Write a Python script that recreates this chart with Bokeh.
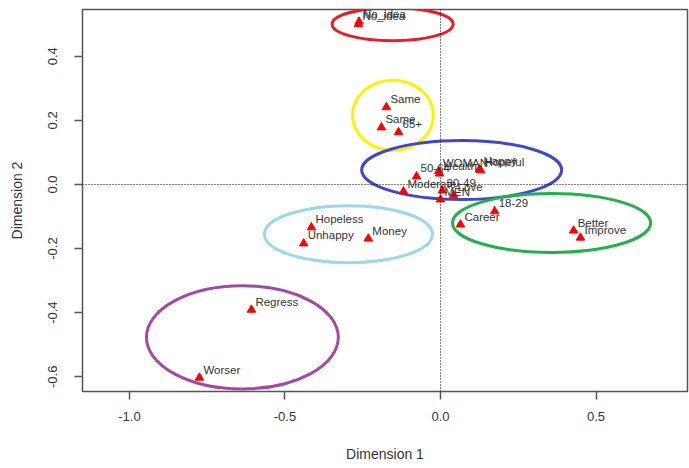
from bokeh.plotting import figure
from bokeh.models import ColumnDataSource, Span, FixedTicker, Range1d
from bokeh.core.properties import value
from bokeh.embed import file_html
from bokeh.resources import INLINE

# Correspondence analysis coordinates of each category
labels = ["No_idea", "No_idea", "Same", "Same", "65+", "50-64", "WOMAN", "Health",
          "Happy", "Hopeful", "Moderate", "30-49", "MEN", "Love", "18-29", "Career",
          "Better", "Improve", "Hopeless", "Unhappy", "Money", "Regress", "Worser"]
dim1 = [-0.264, -0.262, -0.174, -0.190, -0.135, -0.077, -0.006, -0.003,
        0.125, 0.129, -0.119, 0.006, 0.000, 0.042, 0.174, 0.064,
        0.428, 0.450, -0.415, -0.440, -0.232, -0.608, -0.775]
dim2 = [0.500, 0.508, 0.241, 0.178, 0.163, 0.025, 0.041, 0.034,
        0.047, 0.044, -0.022, -0.019, -0.047, -0.034, -0.084, -0.125,
        -0.144, -0.166, -0.134, -0.184, -0.169, -0.391, -0.603]

# Cluster outlines
cluster_x = [-0.154, -0.153, 0.068, 0.357, -0.296, -0.637]
cluster_y = [0.500, 0.216, 0.045, -0.120, -0.155, -0.477]
cluster_w = [0.389, 0.260, 0.643, 0.637, 0.540, 0.617]
cluster_h = [0.103, 0.219, 0.184, 0.184, 0.178, 0.322]
cluster_color = ["#ED1C24", "#FFF200", "#3F48CC", "#22B14C", "#99D9EA", "#A349A4"]

x_ticks = [-1.0, -0.5, 0.0, 0.5]
x_tick_labels = ["-1.0", "-0.5", "0.0", "0.5"]
y_ticks = [-0.6, -0.4, -0.2, 0.0, 0.2, 0.4]
y_tick_labels = ["-0.6", "-0.4", "-0.2", "0.0", "0.2", "0.4"]

FONT = "Liberation Sans"

p = figure(width=689, height=468, output_backend="svg", toolbar_location=None,
           x_range=Range1d(-1.151, 0.794), y_range=Range1d(-0.646, 0.546),
           min_border_left=82, min_border_right=2, min_border_top=9, min_border_bottom=77)

p.background_fill_color = "white"
p.border_fill_color = "white"
p.outline_line_color = "#555555"
p.outline_line_width = 1.5
p.xgrid.visible = False
p.ygrid.visible = False

for ax in (p.xaxis[0], p.yaxis[0]):
    ax.axis_line_color = None
    ax.minor_tick_line_color = None
    ax.major_tick_in = 0
    ax.major_tick_out = 8
    ax.major_tick_line_color = "#555555"
    ax.major_tick_line_width = 1.5
    ax.major_label_text_font = FONT
    ax.major_label_text_font_size = "13px"
    ax.major_label_text_color = "#333333"
    ax.axis_label_text_font = FONT
    ax.axis_label_text_font_size = "14px"
    ax.axis_label_text_font_style = "normal"
    ax.axis_label_text_color = "#333333"

p.xaxis.ticker = FixedTicker(ticks=x_ticks)
p.yaxis.ticker = FixedTicker(ticks=y_ticks)
p.xaxis.major_label_overrides = dict(zip(x_ticks, x_tick_labels))
p.yaxis.major_label_overrides = dict(zip(y_ticks, y_tick_labels))
p.xaxis.axis_label = "Dimension 1"
p.yaxis.axis_label = "Dimension 2"
p.xaxis.major_label_standoff = 12
p.xaxis.axis_label_standoff = 22
p.yaxis.major_label_orientation = "vertical"
p.yaxis.major_label_standoff = 17
p.yaxis.axis_label_standoff = 21

# Reference lines through the origin
p.add_layout(Span(location=0, dimension="width", line_color="black",
                  line_dash="1 2", line_width=1))
p.add_layout(Span(location=0, dimension="height", line_color="black",
                  line_dash="1 2", line_width=1))

clusters = ColumnDataSource(dict(x=cluster_x, y=cluster_y, w=cluster_w,
                                 h=cluster_h, c=cluster_color))
p.ellipse(x="x", y="y", width="w", height="h", source=clusters,
          fill_color=None, line_color="c", line_width=3)

pts = ColumnDataSource(dict(x=dim1, y=dim2, label=labels))
p.scatter(x="x", y="y", source=pts, marker="triangle", size=8.5,
          fill_color="#FF0000", line_color="#FF0000")
p.text(x="x", y="y", text="label", source=pts, x_offset=4, y_offset=-8,
       text_font=value(FONT), text_font_size="11.5px", text_color="#333333",
       text_align="left", text_baseline="middle")

open("out.html", "w").write(file_html(p, INLINE))
